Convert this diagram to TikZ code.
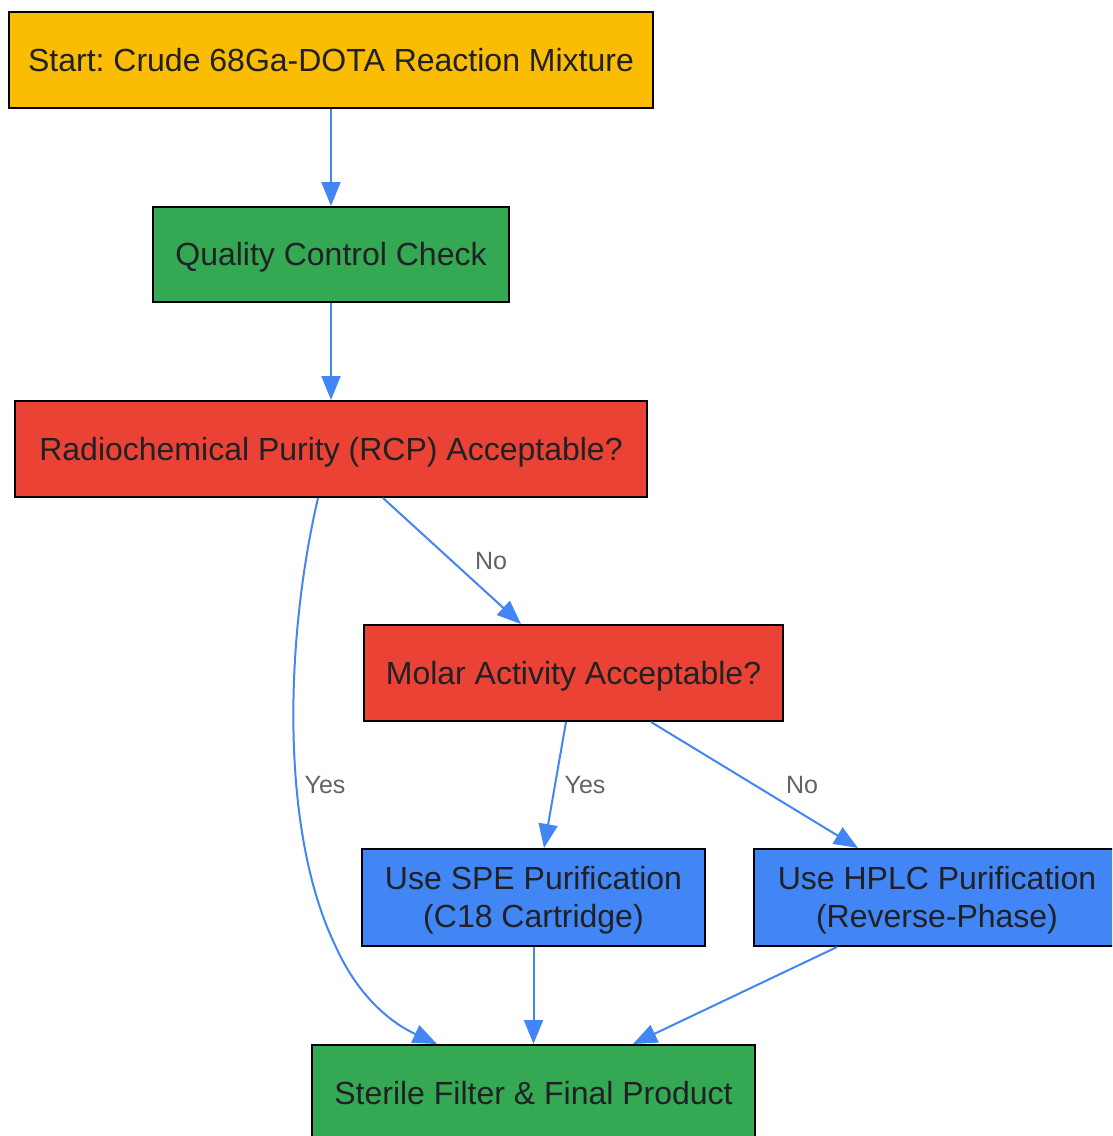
\documentclass[tikz,border=0pt]{standalone}
\usepackage{fontspec}
\setmainfont{Liberation Sans}
\usetikzlibrary{arrows.meta,calc}
\definecolor{cyel}{HTML}{FBBC04}
\definecolor{cgrn}{HTML}{34A853}
\definecolor{cred}{HTML}{EA4335}
\definecolor{cblu}{HTML}{4285F4}
\definecolor{ctxt}{HTML}{202124}
\definecolor{clab}{HTML}{5F6368}
\newcommand{\gvstrut}{\rule[-0.212em]{0pt}{1.117em}}
\frenchspacing
\begin{document}
\begin{tikzpicture}[x=1pt,y=1pt,
  box/.style={draw=black,line width=2pt,font=\fontsize{32}{38}\selectfont\frenchspacing,text=ctxt,align=center,inner sep=0pt},
  conn/.style={draw=cblu,line width=2pt,-{Triangle[length=24pt,width=19pt]}},
  lab/.style={font=\fontsize{25}{30}\selectfont,text=clab,inner sep=0pt}]
\clip (0,0) rectangle (1112,-1136);
\node[box,fill=cyel,minimum width=644pt,minimum height=96pt] (start) at (331,-60) {\gvstrut Start: Crude 68Ga-DOTA Reaction Mixture};
\node[box,fill=cgrn,minimum width=356pt,minimum height=95pt] (qc) at (331,-254.5) {\gvstrut Quality Control Check};
\node[box,fill=cred,minimum width=632pt,minimum height=96pt] (rcp) at (331,-449) {\gvstrut Radiochemical Purity (RCP) Acceptable?};
\node[box,fill=cred,minimum width=419pt,minimum height=96pt] (mol) at (573.5,-673) {\gvstrut Molar Activity Acceptable?};
\node[box,fill=cblu,minimum width=343pt,minimum height=97pt] (spe) at (533.5,-897.5) {\gvstrut Use SPE Purification\\\gvstrut(C18 Cartridge)};
\node[box,fill=cblu,minimum width=400pt,minimum height=97pt] (hplc) at (954,-897.5) {\gvstrut Use HPLC Purification\hspace*{34pt}\\\gvstrut(Reverse-Phase)\hspace*{34pt}};
\node[box,fill=cgrn,minimum width=443pt,minimum height=96pt] (fin) at (533.5,-1093) {\gvstrut Sterile Filter \& Final Product};

\draw[conn] (start) -- (qc);
\draw[conn] (qc) -- (rcp);
\draw[conn] ($(rcp.south)+(52,0)$) -- ($(mol.north)+(-52.5,0)$);
\node[lab] (lno1) at (491,-561) {No};
\draw[conn] ($(rcp.south)+(-13,0)$) .. controls (285,-640) and (280,-830) .. (335,-945)
  .. controls (355,-990) and (385,-1020) .. ($(fin.north)+(-96.5,0)$);
\node[lab] (lyes1) at (325,-785) {Yes};
\draw[conn] ($(mol.south)+(-7.5,0)$) -- ($(spe.north)+(10.5,0)$);
\node[lab] (lyes2) at (585,-785) {Yes};
\draw[conn] ($(mol.south)+(77.5,0)$) -- ($(hplc.north)+(-96,0)$);
\node[lab] (lno2) at (802,-785) {No};
\draw[conn] (spe) -- (fin);
\draw[conn] ($(hplc.south)+(-117,0)$) -- ($(fin.north)+(99.5,0)$);
\end{tikzpicture}
\end{document}
